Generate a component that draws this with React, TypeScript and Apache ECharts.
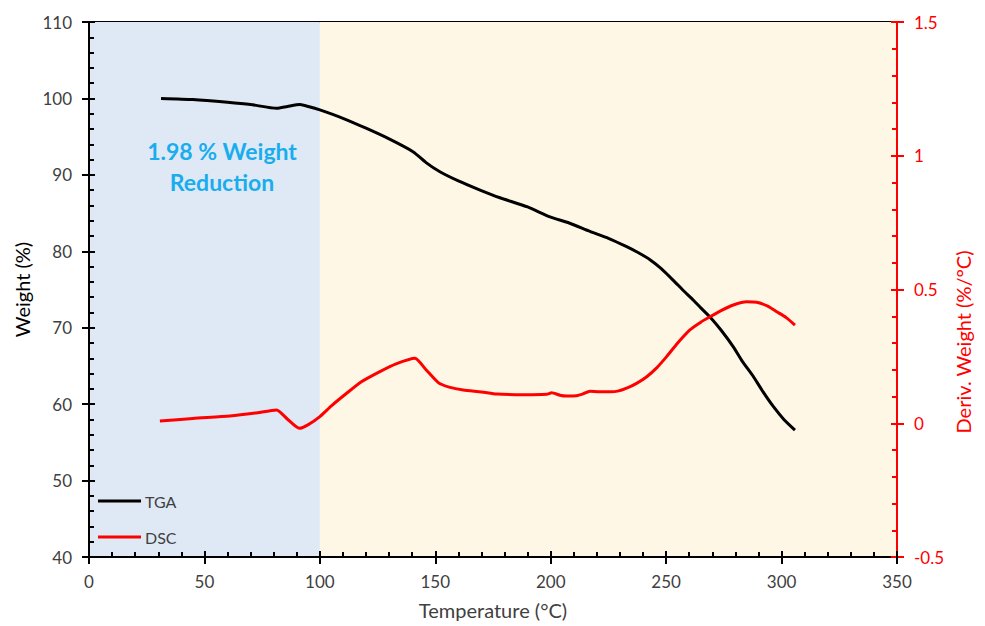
import React, { useEffect, useRef } from "react";
import * as echarts from "echarts";

const tgaTemp = [31.2, 45, 60, 70, 81.3, 86, 91.4, 95, 100, 110, 120, 130, 140.5, 146, 152, 160, 169.4, 178, 190, 199.7, 208, 217, 225, 232.9, 238, 243, 248, 253.1, 258, 261.8, 265, 269, 274, 279.1, 283, 287.8, 292, 296.4, 301, 305.8];
const tgaWeight = [100.0, 99.85, 99.5, 99.2, 98.7, 98.95, 99.2, 98.95, 98.5, 97.4, 96.1, 94.7, 93.0, 91.6, 90.4, 89.2, 88.0, 87.0, 85.8, 84.5, 83.7, 82.6, 81.7, 80.6, 79.8, 78.9, 77.7, 76.2, 74.7, 73.6, 72.6, 71.4, 69.6, 67.5, 65.6, 63.6, 61.6, 59.7, 58.0, 56.6];

const dscTemp = [30.7, 45, 61, 72, 81.3, 86, 91.1, 95, 100, 105, 111.6, 118, 126, 133, 141.2, 146, 151.3, 156, 162.1, 170, 176.6, 185, 192, 198.3, 200.4, 204, 206.9, 211.2, 214, 217, 221, 225.7, 229, 232.9, 237, 241.6, 246, 250.2, 255, 260.3, 265, 269, 274, 279.1, 284.9, 289.2, 294, 297.9, 302, 305.8];
const dscDeriv = [0.008, 0.018, 0.027, 0.038, 0.05, 0.015, -0.019, -0.005, 0.025, 0.065, 0.112, 0.155, 0.193, 0.222, 0.243, 0.2, 0.152, 0.135, 0.124, 0.117, 0.109, 0.107, 0.107, 0.108, 0.114, 0.105, 0.102, 0.103, 0.11, 0.12, 0.118, 0.118, 0.12, 0.131, 0.148, 0.174, 0.208, 0.249, 0.3, 0.349, 0.378, 0.398, 0.422, 0.442, 0.454, 0.452, 0.438, 0.417, 0.395, 0.367];

const xTicks = { min: 0, max: 350, interval: 50 };
const yLeftTicks = { min: 40, max: 110, interval: 10 };
const yRightTicks = { min: -0.5, max: 1.5, interval: 0.5 };
const shadedRanges = [
  { from: 0, to: 100, color: "#DEE9F5" },
  { from: 100, to: 350, color: "#FEF7E6" },
];
const annotation = "1.98 % Weight\nReduction";
const rightTitle = "Deriv. Weight (%/°C)";

export default function App() {
  const ref = useRef<HTMLDivElement>(null);
  useEffect(() => {
    if (!ref.current) return;
    const chart = echarts.init(ref.current, null, { renderer: "svg" });
    const font = "Lato, 'Open Sans', sans-serif";
    const gray = "#404040";
    const outerTicks = (color: string) => ({
      z: 6,
      axisLine: { show: false, onZero: false },
      axisLabel: { show: false },
      splitLine: { show: false },
      axisTick: { show: true, inside: false, length: 7, lineStyle: { color, width: 2 } },
      minorTick: { show: false },
    });
    chart.setOption({
      animation: false,
      backgroundColor: "#ffffff",
      textStyle: { fontFamily: font },
      grid: {
        left: 89, right: 88, top: 22, bottom: 69,
        show: true, borderColor: "#000", borderWidth: 2, backgroundColor: "transparent",
      },
      legend: {
        orient: "vertical",
        left: 93, top: 488,
        itemWidth: 43, itemHeight: 3, itemGap: 20,
        icon: "rect",
        textStyle: { fontSize: 16, color: gray, fontFamily: font, padding: [0, 0, 0, -1] },
        data: ["TGA", "DSC"],
      },
      xAxis: [
        {
          type: "value",
          ...xTicks,
          z: 6,
          name: "Temperature (°C)",
          nameLocation: "middle",
          nameGap: 43,
          nameTextStyle: { fontSize: 20, color: gray, fontFamily: font },
          axisLine: { show: true, onZero: false, lineStyle: { color: "#000", width: 2 } },
          axisTick: { show: true, inside: true, length: 6, lineStyle: { color: "#000", width: 2 } },
          minorTick: { show: true, splitNumber: 5, length: 5, lineStyle: { color: "#000", width: 2 } },
          splitLine: { show: false },
          axisLabel: { fontSize: 17, color: gray, margin: 16, fontFamily: font },
        },
        { type: "value", ...xTicks, position: "bottom", ...outerTicks("#000") },
      ],
      yAxis: [
        {
          type: "value",
          ...yLeftTicks,
          z: 6,
          position: "left",
          name: "Weight (%)",
          nameLocation: "middle",
          nameGap: 57,
          nameRotate: 90,
          nameTextStyle: { fontSize: 20, color: "#000", fontFamily: font },
          axisLine: { show: true, onZero: false, lineStyle: { color: "#000", width: 2 } },
          axisTick: { show: true, inside: true, length: 6, lineStyle: { color: "#000", width: 2 } },
          minorTick: { show: true, splitNumber: 5, length: 5, lineStyle: { color: "#000", width: 2 } },
          splitLine: { show: false },
          axisLabel: { fontSize: 17, color: gray, margin: 17, fontFamily: font },
        },
        {
          type: "value",
          ...yRightTicks,
          z: 6,
          position: "right",
          axisLine: { show: true, onZero: false, lineStyle: { color: "#FF0000", width: 2 } },
          axisTick: { show: true, inside: true, length: 6, lineStyle: { color: "#FF0000", width: 2 } },
          minorTick: { show: true, splitNumber: 5, length: 5, lineStyle: { color: "#FF0000", width: 2 } },
          splitLine: { show: false },
          axisLabel: { fontSize: 17, color: "#FF0000", margin: 17, fontFamily: font },
        },
        { type: "value", ...yLeftTicks, position: "left", ...outerTicks("#000") },
        { type: "value", ...yRightTicks, position: "right", ...outerTicks("#FF0000") },
      ],
      series: [
        {
          name: "TGA",
          type: "line",
          yAxisIndex: 0,
          showSymbol: false,
          symbol: "none",
          smooth: 0.2,
          color: "#000000",
          lineStyle: { color: "#000000", width: 3 },
          data: tgaTemp.map((t, i) => [t, tgaWeight[i]]),
          markArea: {
            silent: true,
            data: shadedRanges.map((r) => [
              { xAxis: r.from, itemStyle: { color: r.color } },
              { xAxis: r.to },
            ]),
          },
          z: 3,
        },
        {
          name: "DSC",
          type: "line",
          yAxisIndex: 1,
          showSymbol: false,
          symbol: "none",
          smooth: 0.2,
          color: "#FF0000",
          lineStyle: { color: "#FF0000", width: 3 },
          data: dscTemp.map((t, i) => [t, dscDeriv[i]]),
          z: 3,
        },
      ],
      graphic: [
        {
          type: "text",
          x: 222,
          y: 135,
          z: 10,
          style: {
            text: annotation,
            fill: "#1AADEE",
            font: `bold 23px ${font}`,
            textAlign: "center",
            lineHeight: 31,
          },
        },
        {
          type: "text",
          x: 963,
          y: 342,
          rotation: Math.PI / 2,
          z: 10,
          style: {
            text: rightTitle,
            fill: "#FF0000",
            font: `20px ${font}`,
            textAlign: "center",
            textVerticalAlign: "middle",
          },
        },
      ],
    });
    return () => chart.dispose();
  }, []);
  return <div ref={ref} style={{ width: 985, height: 626, position: "absolute", left: 0, top: 0 }} />;
}
